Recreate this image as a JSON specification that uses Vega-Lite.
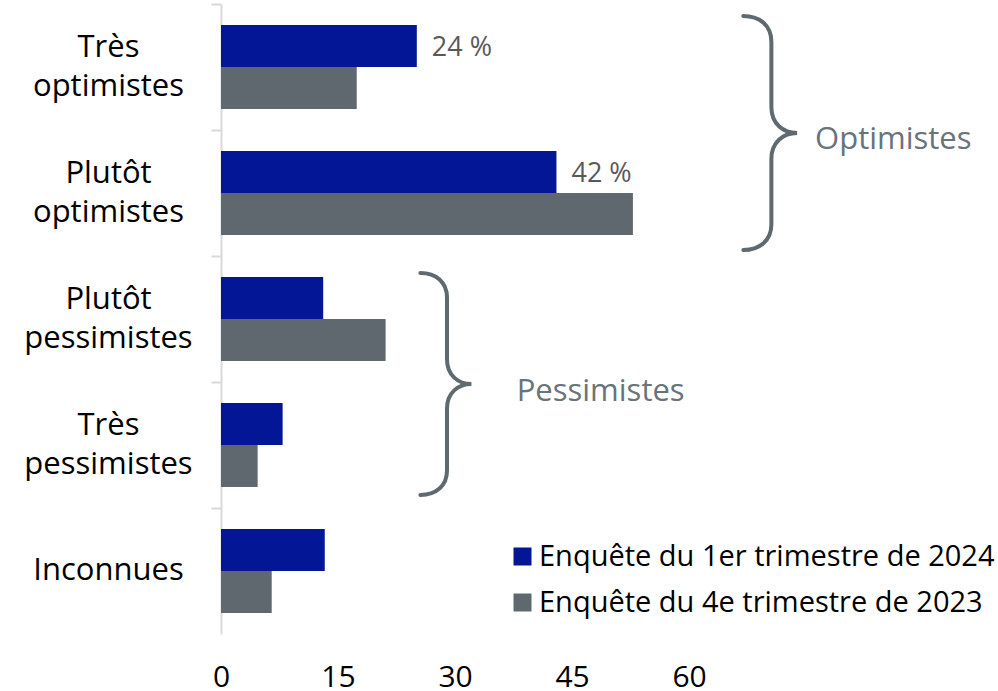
{
  "$schema": "https://vega.github.io/schema/vega-lite/v6.json",
  "width": 777,
  "height": 630,
  "autosize": {"type": "none"},
  "padding": {"left": 221, "top": 4, "right": 0, "bottom": 57},
  "background": "white",
  "config": {"view": {"stroke": null}, "font": "Open Sans"},
  "datasets": {
    "barres": [
      {"categorie": "Très optimistes", "enquete": "Enquête du 1er trimestre de 2024", "valeur": 25.1, "etiquette": "24 %"},
      {"categorie": "Très optimistes", "enquete": "Enquête du 4e trimestre de 2023", "valeur": 17.4, "etiquette": null},
      {"categorie": "Plutôt optimistes", "enquete": "Enquête du 1er trimestre de 2024", "valeur": 43.0, "etiquette": "42 %"},
      {"categorie": "Plutôt optimistes", "enquete": "Enquête du 4e trimestre de 2023", "valeur": 52.8, "etiquette": null},
      {"categorie": "Plutôt pessimistes", "enquete": "Enquête du 1er trimestre de 2024", "valeur": 13.1, "etiquette": null},
      {"categorie": "Plutôt pessimistes", "enquete": "Enquête du 4e trimestre de 2023", "valeur": 21.1, "etiquette": null},
      {"categorie": "Très pessimistes", "enquete": "Enquête du 1er trimestre de 2024", "valeur": 7.9, "etiquette": null},
      {"categorie": "Très pessimistes", "enquete": "Enquête du 4e trimestre de 2023", "valeur": 4.7, "etiquette": null},
      {"categorie": "Inconnues", "enquete": "Enquête du 1er trimestre de 2024", "valeur": 13.3, "etiquette": null},
      {"categorie": "Inconnues", "enquete": "Enquête du 4e trimestre de 2023", "valeur": 6.5, "etiquette": null}
    ],
    "groupes": [
      {"groupe": "Optimistes", "de": "Très optimistes", "a": "Plutôt optimistes"},
      {"groupe": "Pessimistes", "de": "Plutôt pessimistes", "a": "Très pessimistes"}
    ]
  },
  "layer": [
    {
      "data": {"name": "barres"},
      "mark": {"type": "bar"},
      "encoding": {
        "y": {
          "field": "categorie", "type": "nominal",
          "scale": {"domain": ["Très optimistes", "Plutôt optimistes", "Plutôt pessimistes", "Très pessimistes", "Inconnues"], "paddingInner": 0, "paddingOuter": 0},
          "axis": {
            "title": null, "domainColor": "#d9d9d9", "domainWidth": 2,
            "tickColor": "#d9d9d9", "tickWidth": 2, "tickSize": 10, "bandPosition": 0,
            "labelFont": "Open Sans", "labelFontSize": 31, "labelColor": "#000000",
            "labelAlign": "center", "labelBaseline": "middle", "labelPadding": 103,
            "labelLineHeight": 39, "labelLimit": 400,
            "labelOffset": {"condition": {"test": "datum.value == 'Inconnues'", "value": 0}, "value": -19.5},
            "labelExpr": "split(datum.label, ' ')"
          }
        },
        "yOffset": {
          "field": "enquete", "type": "nominal",
          "scale": {"domain": ["Enquête du 1er trimestre de 2024", "Enquête du 4e trimestre de 2023"], "paddingInner": 0, "paddingOuter": 0.5}
        },
        "x": {
          "field": "valeur", "type": "quantitative",
          "scale": {"domain": [0, 99.6], "nice": false},
          "axis": {
            "title": null, "values": [0, 15, 30, 45, 60], "domain": false, "ticks": false,
            "tickSize": 0, "grid": false, "labelFont": "Open Sans", "labelFontSize": 30,
            "labelColor": "#000000", "labelPadding": 28, "labelBaseline": "top", "labelFlush": false
          }
        },
        "color": {
          "field": "enquete", "type": "nominal",
          "scale": {
            "domain": ["Enquête du 1er trimestre de 2024", "Enquête du 4e trimestre de 2023"],
            "range": ["#031696", "#5f686e"]
          },
          "legend": {
            "title": null, "orient": "none", "legendX": 287, "legendY": 538,
            "symbolType": "square", "symbolSize": 324, "symbolStrokeWidth": 0,
            "labelFont": "Open Sans", "labelFontSize": 29, "labelColor": "#000000",
            "labelOffset": 2, "rowPadding": 16, "padding": 0, "labelLimit": 600
          }
        }
      }
    },
    {
      "data": {"name": "barres"},
      "transform": [{"filter": "datum.etiquette != null"}],
      "mark": {"type": "text", "align": "left", "baseline": "middle", "dx": 15, "dy": -19, "font": "Open Sans", "fontSize": 27, "color": "#595959"},
      "encoding": {
        "y": {"field": "categorie", "type": "nominal"},
        "x": {"field": "valeur", "type": "quantitative"},
        "text": {"field": "etiquette"}
      }
    },
    {
      "data": {"name": "groupes"},
      "transform": [{"filter": "datum.groupe == 'Optimistes'"}],
      "mark": {"type": "point", "shape": "M -0.46 -1 C -0.32 -1 -0.22 -0.92 -0.22 -0.78 L -0.22 -0.22 C -0.22 -0.08 -0.12 0 0 0 C -0.12 0 -0.22 0.08 -0.22 0.22 L -0.22 0.78 C -0.22 0.92 -0.32 1 -0.46 1", "size": 54756, "filled": false, "color": "#5f6a70", "strokeWidth": 4, "opacity": 1, "strokeCap": "round", "yOffset": 3},
      "encoding": {
        "x": {"datum": 73.85, "type": "quantitative"},
        "y": {"field": "de", "type": "nominal", "bandPosition": 1}
      }
    },
    {
      "data": {"name": "groupes"},
      "transform": [{"filter": "datum.groupe == 'Pessimistes'"}],
      "mark": {"type": "point", "shape": "M -0.46 -1 C -0.32 -1 -0.22 -0.92 -0.22 -0.78 L -0.22 -0.22 C -0.22 -0.08 -0.12 0 0 0 C -0.12 0 -0.22 0.08 -0.22 0.22 L -0.22 0.78 C -0.22 0.92 -0.32 1 -0.46 1", "size": 49284, "filled": false, "color": "#5f6a70", "strokeWidth": 4, "opacity": 1, "strokeCap": "round", "yOffset": 2},
      "encoding": {
        "x": {"datum": 32.1, "type": "quantitative"},
        "y": {"field": "de", "type": "nominal", "bandPosition": 1}
      }
    },
    {
      "data": {"name": "groupes"},
      "transform": [{"filter": "datum.groupe == 'Optimistes'"}],
      "mark": {"type": "text", "align": "left", "baseline": "middle", "dy": 10, "font": "Open Sans", "fontSize": 31, "color": "#68737a"},
      "encoding": {
        "x": {"datum": 76.15, "type": "quantitative"},
        "y": {"field": "de", "type": "nominal", "bandPosition": 1},
        "text": {"field": "groupe"}
      }
    },
    {
      "data": {"name": "groupes"},
      "transform": [{"filter": "datum.groupe == 'Pessimistes'"}],
      "mark": {"type": "text", "align": "left", "baseline": "middle", "dy": 10, "font": "Open Sans", "fontSize": 31, "color": "#68737a"},
      "encoding": {
        "x": {"datum": 37.9, "type": "quantitative"},
        "y": {"field": "de", "type": "nominal", "bandPosition": 1},
        "text": {"field": "groupe"}
      }
    }
  ]
}
